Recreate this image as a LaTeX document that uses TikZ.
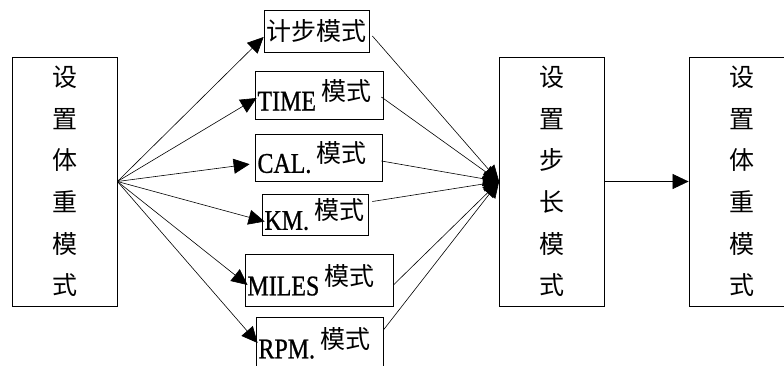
\documentclass[tikz,border=0pt]{standalone}
\usepackage{fontspec}
\setmainfont{Liberation Serif}
\newfontfamily\cjk{Noto Sans CJK SC}
\newfontfamily\latfont[FakeStretch=0.84,FakeBold=0.8]{Liberation Serif}
\usepackage{tikz}
\usetikzlibrary{shapes,arrows.meta}
\newcommand{\mix}[2]{{\latfont\fontsize{28.5}{30}\selectfont #1}\kern5pt\raisebox{10pt}{\cjk #2}}

\begin{document}
\begin{tikzpicture}[x=1pt, y=1pt,
		bigbox/.style={draw, line width=0.8pt, minimum width=105pt, minimum height=249pt, inner sep=0pt, align=center, font=\cjk\fontsize{25}{41.6}\selectfont},
		modebox/.style={draw, line width=0.8pt, inner xsep=2.5pt, inner ysep=0pt, align=left, font=\fontsize{25}{30}\selectfont},
		link/.style={line width=0.6pt, -{Triangle[length=16pt,width=15pt]}}]
			\path[use as bounding box, clip] (0,0) rectangle (784,365);
			
			\node[bigbox] (gw) at (64.5,183.5) {设\\置\\体\\重\\模\\式};
			\node[bigbox, right of=gw, node distance=487.5pt] (bc) {设\\置\\步\\长\\模\\式};
			\node[bigbox, right of=bc, node distance=190pt, minimum width=106pt] (gw2) {设\\置\\体\\重\\模\\式};
			
			\node[modebox, text width=100pt, minimum height=42pt] (jb) at (316.5,334) {\cjk 计步模式};
			\node[modebox, text width=123pt, minimum height=48pt] (tm) at (319,270) {\mix{TIME}{模式}};
			\node[modebox, text width=122pt, minimum height=47pt] (cal) at (318.5,207.5) {\mix{CAL.}{模式}};
			\node[modebox, text width=101pt, minimum height=41pt] (km) at (315,150.5) {\mix{KM.}{模式}};
			\node[modebox, text width=143pt, minimum height=52pt] (mi) at (319,85) {\mix{MILES}{模式}};
			\node[modebox, text width=122pt, minimum height=52pt] (rpm) at (319.5,22) {\mix{RPM.}{模式}};
			
			\draw[link] (gw.east) -- ([yshift=-6pt]jb.west);
			\draw[link] (gw.east) -- ([xshift=2pt,yshift=-3pt]tm.west);
			\draw[link, shorten >=5pt] (gw.east) -- ([yshift=-6pt]cal.west);
			\draw[link] (gw.east) -- ([xshift=3pt,yshift=-7pt]km.west);
			\draw[link] (gw.east) -- ([xshift=3pt,yshift=-5pt]mi.west);
			\draw[link] (gw.east) -- ([xshift=2pt]rpm.west);
			
			\draw[link] ([xshift=3pt,yshift=-5pt]jb.east) -- (bc.west);
			\draw[link] ([xshift=-2pt,yshift=-2pt]tm.east) -- (bc.west);
			\draw[link] ([xshift=-1pt,yshift=-3.5pt]cal.east) -- (bc.west);
			\draw[link] ([xshift=4pt,yshift=13pt]km.east) -- (bc.west);
			\draw[link] ([yshift=-5pt]mi.east) -- (bc.west);
			\draw[link] ([yshift=13pt]rpm.east) -- (bc.west);
			
			\draw[link] (bc.east) -- (gw2.west);
		\end{tikzpicture}
\end{document}
